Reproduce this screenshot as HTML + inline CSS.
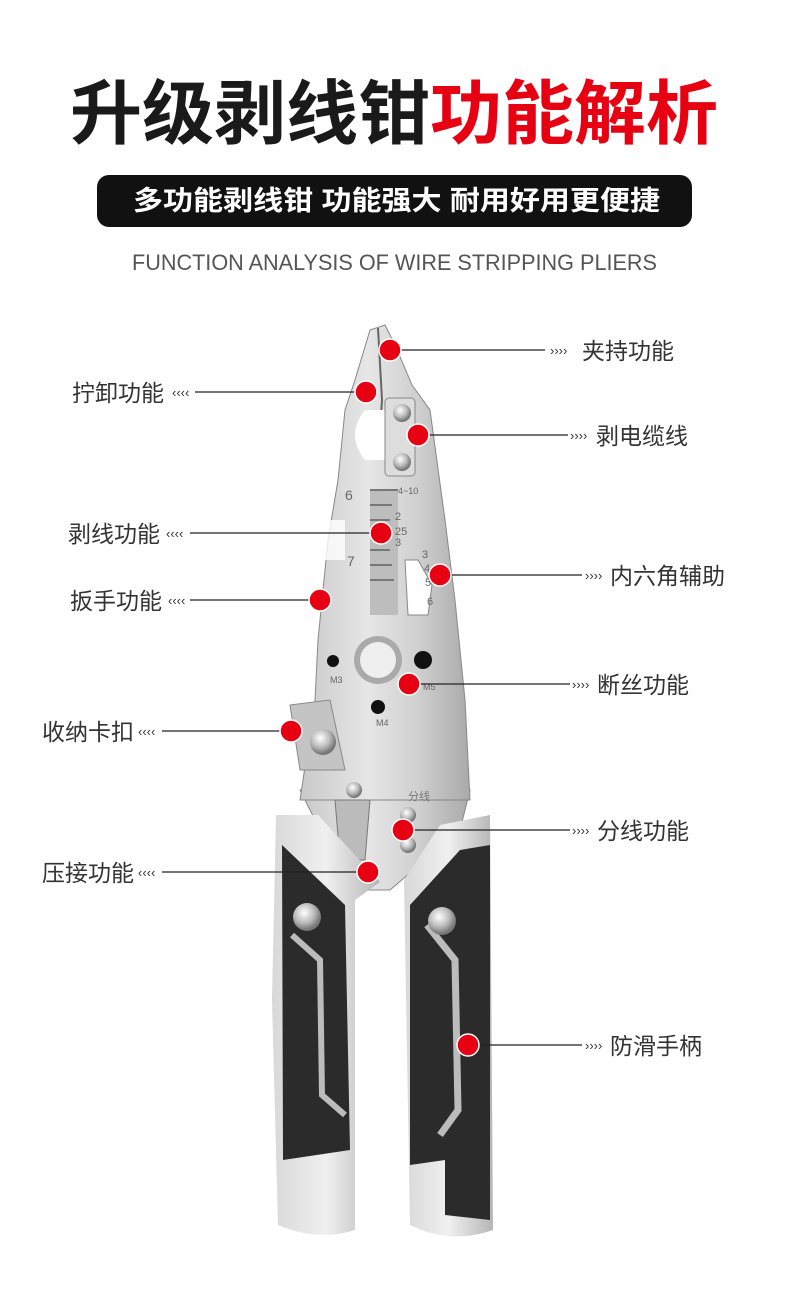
<!DOCTYPE html>
<html><head><meta charset="utf-8"><style>
body{margin:0;background:#fff;}
svg{display:block}
text{font-family:"Liberation Sans","Noto Sans CJK SC",sans-serif;}
</style></head><body>
<svg width="790" height="1305" viewBox="0 0 790 1305" xmlns="http://www.w3.org/2000/svg">
<defs>
<linearGradient id="steel" x1="0" x2="1" y1="0" y2="0">
<stop offset="0" stop-color="#c9c9c9"/><stop offset="0.4" stop-color="#e6e6e6"/><stop offset="0.7" stop-color="#cfcfcf"/><stop offset="1" stop-color="#a9a9a9"/></linearGradient>
<linearGradient id="grey" x1="0" x2="1"><stop offset="0" stop-color="#d8d8d8"/><stop offset="0.5" stop-color="#f0f0f0"/><stop offset="1" stop-color="#b5b5b5"/></linearGradient>
<radialGradient id="ball" cx="0.4" cy="0.35" r="0.6"><stop offset="0" stop-color="#fff"/><stop offset="0.6" stop-color="#bbb"/><stop offset="1" stop-color="#777"/></radialGradient>
</defs>
<text x="70" y="138" font-size="70" font-weight="bold" fill="#1a1a1a" textLength="360" lengthAdjust="spacingAndGlyphs">升级剥线钳</text>
<text x="430" y="138" font-size="70" font-weight="bold" fill="#e60012" textLength="288" lengthAdjust="spacingAndGlyphs">功能解析</text>
<rect x="97" y="175" width="595" height="52" rx="12" fill="#111"/>
<text x="133" y="210" font-size="27" font-weight="bold" fill="#fff" textLength="527" lengthAdjust="spacingAndGlyphs">多功能剥线钳 功能强大 耐用好用更便捷</text>
<text x="132" y="270" font-size="22" fill="#555" textLength="525" lengthAdjust="spacingAndGlyphs">FUNCTION ANALYSIS OF WIRE STRIPPING PLIERS</text>

<!-- lower head between handles -->
<path d="M300,790 L470,790 L460,830 L390,890 L360,890 L320,830 Z" fill="url(#steel)" stroke="#888"/>
<!-- plier head -->
<path d="M370,330 L385,325 L395,345 L412,385 L430,410 L445,520 L455,600 L465,700 L470,800 L300,800 L315,700 L318,640 L328,540 L338,480 L345,410 L355,380 Z" fill="url(#steel)" stroke="#888" stroke-width="1"/>
<path d="M378,328 L382,400 L378,460" stroke="#666" stroke-width="2" fill="none"/>
<path d="M365,410 Q345,435 365,460 L385,460 L385,410 Z" fill="#fff"/>
<rect x="385" y="398" width="30" height="78" rx="4" fill="#ddd" stroke="#888"/>
<circle cx="402" cy="413" r="9" fill="url(#ball)"/>
<circle cx="402" cy="462" r="9" fill="url(#ball)"/>
<rect x="370" y="490" width="28" height="125" fill="#bdbdbd"/>
<path d="M370,490 h28 M370,505 h22 M370,520 h20 M370,535 h22 M370,550 h20 M370,565 h22 M370,580 h24" stroke="#777" stroke-width="2"/>
<path d="M405,560 L418,560 L432,585 L428,615 L408,615 Z" fill="#fff" stroke="#888"/>
<path d="M320,520 L345,520 L345,560 L320,560 Z" fill="#fff" opacity="0.8"/>
<text x="345" y="500" font-size="14" fill="#666" font-family="Liberation Serif">6</text>
<text x="398" y="494" font-size="9" fill="#666" font-family="Liberation Serif">4~10</text>
<text x="395" y="520" font-size="11" fill="#666" font-family="Liberation Serif">2</text>
<text x="395" y="535" font-size="11" fill="#666" font-family="Liberation Serif">25</text>
<text x="395" y="546" font-size="11" fill="#666" font-family="Liberation Serif">3</text>
<text x="347" y="566" font-size="14" fill="#666" font-family="Liberation Serif">7</text>
<text x="422" y="558" font-size="11" fill="#666" font-family="Liberation Serif">3</text>
<text x="424" y="572" font-size="11" fill="#666" font-family="Liberation Serif">4</text>
<text x="425" y="586" font-size="11" fill="#666" font-family="Liberation Serif">5</text>
<text x="427" y="605" font-size="11" fill="#666" font-family="Liberation Serif">6</text>
<circle cx="378" cy="660" r="24" fill="#aaa"/><circle cx="378" cy="660" r="18" fill="#efefef"/>
<circle cx="333" cy="661" r="6" fill="#111"/><circle cx="423" cy="660" r="9" fill="#111"/><circle cx="378" cy="707" r="7" fill="#111"/>
<text x="330" y="683" font-size="9" fill="#666" font-family="Liberation Serif">M3</text>
<text x="423" y="690" font-size="9" fill="#666" font-family="Liberation Serif">M5</text>
<text x="376" y="726" font-size="9" fill="#666" font-family="Liberation Serif">M4</text>
<path d="M290,705 L330,700 L345,770 L300,770 Z" fill="#c4c4c4" stroke="#888"/>
<circle cx="323" cy="742" r="13" fill="url(#ball)"/>
<text x="408" y="800" font-size="11" fill="#777">分线</text>
<path d="M335,800 L370,800 L365,860 L340,860 Z" fill="#bbb" stroke="#777"/>
<circle cx="354" cy="790" r="8" fill="url(#ball)"/><circle cx="354" cy="870" r="8" fill="url(#ball)"/>
<circle cx="408" cy="815" r="8" fill="url(#ball)"/><circle cx="408" cy="845" r="8" fill="url(#ball)"/>

<!-- handles -->
<path d="M276,815 L318,815 L380,882 L355,900 L355,1230 Q318,1242 278,1225 L272,1000 Z" fill="url(#grey)"/>
<path d="M282,845 L345,905 L350,1150 L283,1160 Z" fill="#2b2b2b"/>
<path d="M292,935 L320,960 L322,1095 L345,1115" stroke="#bcbcbc" stroke-width="6" fill="none"/>
<path d="M404,880 L440,825 L490,815 L493,1230 Q450,1245 410,1225 Z" fill="url(#grey)"/>
<path d="M410,905 L460,850 L490,845 L490,1220 L445,1215 L445,1160 L410,1165 Z" fill="#2b2b2b"/>
<path d="M427,925 L455,960 L458,1110 L440,1135" stroke="#bcbcbc" stroke-width="7" fill="none"/>
<circle cx="307" cy="917" r="14" fill="url(#ball)"/>
<circle cx="442" cy="921" r="14" fill="url(#ball)"/>

<!-- leaders -->
<g stroke="#222" stroke-width="1.3">
<line x1="390" y1="350" x2="545" y2="350"/>
<line x1="195" y1="392" x2="366" y2="392"/>
<line x1="418" y1="435" x2="568" y2="435"/>
<line x1="190" y1="533" x2="381" y2="533"/>
<line x1="440" y1="575" x2="582" y2="575"/>
<line x1="190" y1="600" x2="320" y2="600"/>
<line x1="409" y1="684" x2="570" y2="684"/>
<line x1="162" y1="731" x2="291" y2="731"/>
<line x1="403" y1="830" x2="570" y2="830"/>
<line x1="162" y1="872" x2="368" y2="872"/>
<line x1="468" y1="1045" x2="582" y2="1045"/>
</g>
<g fill="#e60012" stroke="#fff" stroke-width="1.5">
<circle cx="390" cy="350" r="11"/><circle cx="366" cy="392" r="11"/><circle cx="418" cy="435" r="11"/>
<circle cx="381" cy="533" r="11"/><circle cx="440" cy="575" r="11"/><circle cx="320" cy="600" r="11"/>
<circle cx="409" cy="684" r="11"/><circle cx="291" cy="731" r="11"/><circle cx="403" cy="830" r="11"/>
<circle cx="368" cy="872" r="11"/><circle cx="468" cy="1045" r="11"/>
</g>
<g font-size="13" fill="#333">
<text x="550" y="355">››››</text>
<text x="172" y="397">‹‹‹‹</text>
<text x="570" y="440">››››</text>
<text x="166" y="538">‹‹‹‹</text>
<text x="585" y="580">››››</text>
<text x="168" y="605">‹‹‹‹</text>
<text x="572" y="689">››››</text>
<text x="138" y="736">‹‹‹‹</text>
<text x="572" y="835">››››</text>
<text x="138" y="877">‹‹‹‹</text>
<text x="585" y="1050">››››</text>
</g>
<g font-size="23" fill="#333">
<text x="582" y="359">夹持功能</text>
<text x="72" y="401">拧卸功能</text>
<text x="596" y="444">剥电缆线</text>
<text x="68" y="542">剥线功能</text>
<text x="610" y="584">内六角辅助</text>
<text x="70" y="609">扳手功能</text>
<text x="597" y="693">断丝功能</text>
<text x="42" y="740">收纳卡扣</text>
<text x="597" y="839">分线功能</text>
<text x="42" y="881">压接功能</text>
<text x="610" y="1054">防滑手柄</text>
</g>
</svg>
</body></html>
